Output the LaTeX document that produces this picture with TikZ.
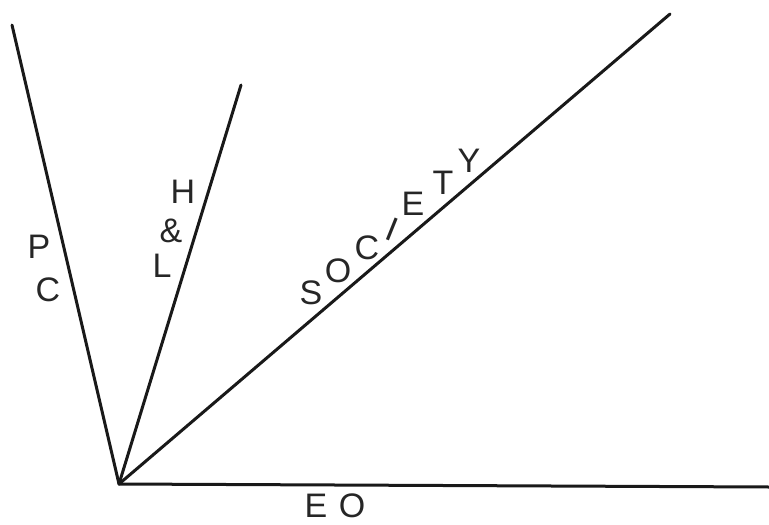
\documentclass[tikz,border=0pt]{standalone}
\usepackage{fontspec}
\setmainfont{Liberation Sans}
\usetikzlibrary{calc}
\begin{document}
\begin{tikzpicture}[
  x=1pt, y=-1pt,
  tia/.style={line width=3pt, black!90, line cap=round},
  chu/.style={inner sep=0pt, font=\fontsize{34}{36}\selectfont, text=black!85}
]
\useasboundingbox (0,0) rectangle (769,525);

% -- Goc chung va bon dau tia --
\coordinate (goc) at (119,484);
\coordinate (dauPC) at (12,25);
\coordinate (dauHL) at (241,85);
\coordinate (dauSO) at (670,14);
\coordinate (dauEO) at (769,487);

\draw[tia] (goc) -- (dauPC);
\draw[tia] (goc) -- (dauHL);
\draw[tia] (goc) -- (dauSO);
\draw[tia] (goc) -- (dauEO);

% -- Chu ben tia PC --
\node[chu] (pP) at (39,247) {P};
\node[chu] (pC) at (48,290) {C};

% -- Chu ben tia H & L --
\node[chu] (hH) at (183,192) {H};
\node[chu] (hA) at (171,231) {\&};
\node[chu] (hL) at (162,266) {L};

% -- SOCIETY doc theo tia cheo --
\node[chu] (sS) at (311,293) {S};
\node[chu] (sO) at (338,271) {O};
\node[chu] (sC) at (367,248) {C};
\node[chu, rotate=-22] (sI) at (392,229) {I};
\node[chu] (sE) at (413,204) {E};
\node[chu] (sT) at (443,183) {T};
\node[chu] (sY) at (469,161) {Y};

% -- Chu duoi tia ngang --
\node[chu] (eE) at (316,506) {E};
\node[chu] (eO) at (352,506) {O};

\end{tikzpicture}
\end{document}
